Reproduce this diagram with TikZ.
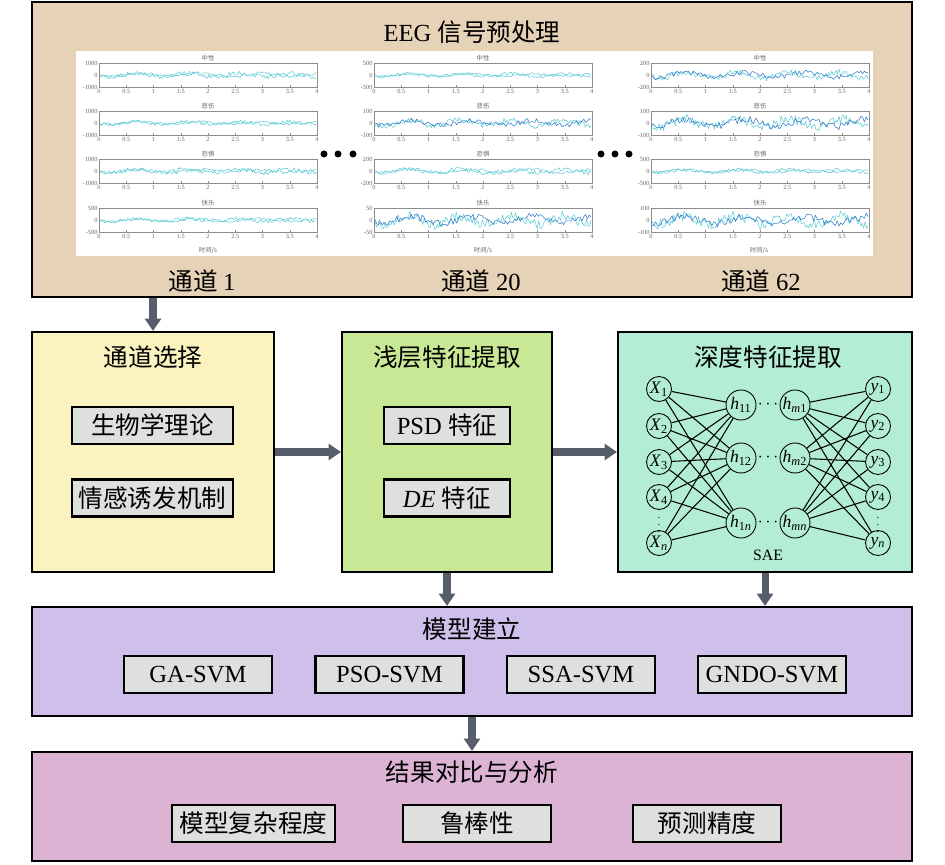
\documentclass[tikz,border=0pt]{standalone}
\usepackage{fontspec}
\setmainfont{Liberation Serif}
\newfontfamily\cjk{Noto Sans CJK SC}
\usepackage{xcolor}
\usetikzlibrary{arrows.meta, positioning}

\definecolor{tanbg}{HTML}{E6D2B6}
\definecolor{selbg}{HTML}{FBF3BF}
\definecolor{shalbg}{HTML}{C9E896}
\definecolor{deepbg}{HTML}{B3EDD6}
\definecolor{modbg}{HTML}{CEC0EA}
\definecolor{resbg}{HTML}{DDB3D4}
\definecolor{itembg}{HTML}{DEE0DE}
\definecolor{arrowgray}{HTML}{585D6C}
\definecolor{sigcyan}{HTML}{5CCBD4}
\definecolor{sigblue}{HTML}{2C7BCB}

% one small EEG trace with its frame and tick labels
\newcommand{\eegpanel}[7]{%
  \begin{scope}[shift={(#1,#2)}]
    \pgfmathsetseed{#5}
    \draw[sigline, sigcyan] plot[domain=1:217, samples=150, variable=\t]
      (\t, {12 + #6*(0.45*sin(\t*7+#5) + 0.55*rand)});
    \draw[sigline, #7] plot[domain=1:217, samples=120, variable=\t]
      (\t, {12 + 0.8*#6*(0.5*sin(\t*6+2*#5) + 0.5*rand)});
    \draw[axisframe] (0,0) rectangle (218,24);
    \node[plotlbl, anchor=south] at (109,0) {\cjk #3};
    \node[plotlbl, anchor=east] at (0,0) {#4};
    \node[plotlbl, anchor=east] at (0,12) {0};
    \node[plotlbl, anchor=east] at (0,24) {-#4};
    \foreach \k/\lab in {0/0,1/0.5,2/1,3/1.5,4/2,5/2.5,6/3,7/3.5,8/4} {
      \draw[axisframe] (\k*27.25,24) -- ++(0,-1.5);
      \node[plotlbl, anchor=north] at (\k*27.25,25) {\lab};
    }
  \end{scope}}

\begin{document}
\begin{tikzpicture}[
    x=0.02cm, y=-0.02cm,
    stage/.style={rectangle, draw, line width=1.2pt, inner sep=0pt},
    item/.style={rectangle, draw, line width=1.2pt, fill=itembg, inner sep=0pt,
      minimum height=0.74cm, font=\fontsize{14}{16}\selectfont},
    head/.style={font=\fontsize{14}{16}\selectfont\cjk, inner sep=1pt},
    fatarrow/.style={draw=arrowgray, line width=4pt, -{Triangle[length=7pt, width=9pt]}},
    sigline/.style={line width=0.3pt, line join=round},
    axisframe/.style={draw=black!45, line width=0.25pt},
    plotlbl/.style={font=\fontsize{3.6}{4}\selectfont, text=black!60, inner sep=0.7pt},
    unit/.style={circle, draw, line width=0.5pt, minimum size=0.5cm, inner sep=0pt,
      font=\fontsize{10}{11}\selectfont},
    hid/.style={circle, draw, line width=0.5pt, minimum size=0.6cm, inner sep=0pt,
      font=\fontsize{10}{11}\selectfont},
    vdot/.style={inner sep=0pt, font=\fontsize{6}{6}\selectfont},
    link/.style={draw, line width=0.6pt}
  ]
  \useasboundingbox (0,0) rectangle (945,864);

  % preprocessing
  \node[stage, fill=tanbg, minimum width=17.6cm, minimum height=5.9cm] (eeg) at (472,149.5) {};
  \node[head] (eegt) at (472,32) {\rmfamily EEG {\cjk 信号预处理}};
  \fill[white] (76,51) rectangle (873,256);

  \eegpanel{99}{63}{中性}{1000}{11}{4}{sigcyan}
  \eegpanel{99}{111}{悲伤}{1000}{12}{3}{sigcyan}
  \eegpanel{99}{159}{恐惧}{1000}{13}{4}{sigcyan}
  \eegpanel{99}{208}{快乐}{500}{14}{3}{sigcyan}
  \eegpanel{374}{63}{中性}{500}{21}{3}{sigcyan}
  \eegpanel{374}{111}{悲伤}{100}{22}{6}{sigblue}
  \eegpanel{374}{159}{恐惧}{200}{23}{4}{sigcyan}
  \eegpanel{374}{208}{快乐}{50}{24}{9}{sigblue}
  \eegpanel{651}{63}{中性}{200}{31}{6}{sigblue}
  \eegpanel{651}{111}{悲伤}{100}{32}{9}{sigblue}
  \eegpanel{651}{159}{恐惧}{500}{33}{3}{sigcyan}
  \eegpanel{651}{208}{快乐}{100}{34}{9}{sigblue}

  \foreach \gx in {208,483,759}
    \node[plotlbl] at (\gx,250) {\cjk 时间/s};
  \foreach \dx in {324,338,353,601,615,629}
    \fill (\dx,154) circle (3.5);

  \node[head] (ch1) at (202,281) {通道 {\rmfamily 1}};
  \node[head] (ch20) at (481,281) {通道 {\rmfamily 20}};
  \node[head] (ch62) at (761,281) {通道 {\rmfamily 62}};

  % second row
  \node[stage, fill=selbg, minimum width=4.84cm, minimum height=4.8cm] (sel) at (153,452) {};
  \node[stage, fill=shalbg, minimum width=4.2cm, minimum height=4.8cm] (shal) at (447,452) {};
  \node[stage, fill=deepbg, minimum width=5.88cm, minimum height=4.8cm] (deep) at (765,452) {};

  \node[head] (selt) at (153,357) {通道选择};
  \node[head] (shalt) at (447,357) {浅层特征提取};
  \node[head] (deept) at (768,357) {深度特征提取};

  \node[item, minimum width=3.22cm] (bio) at (152.5,425.5) {\cjk 生物学理论};
  \node[item, minimum width=3.22cm] (emo) at (152.5,498) {\cjk 情感诱发机制};
  \node[item, minimum width=2.52cm] (psd) at (447,425.5) {PSD {\cjk 特征}};
  \node[item, minimum width=2.52cm] (de) at (447,498) {\textit{DE} {\cjk 特征}};

  % SAE network
  \foreach \i/\y/\lab in {1/389/1, 2/426/2, 3/462/3, 4/497/4, 5/543/\textit{n}} {
    \node[unit] (x\i) at (659,\y) {\textit{X}\textsubscript{\lab}};
    \node[unit] (y\i) at (878,\y) {\textit{y}\textsubscript{\lab}};
  }
  \foreach \j/\y/\la/\lb in {1/405/11/\textit{m}1, 2/458/12/\textit{m}2, 3/523/1\textit{n}/\textit{mn}} {
    \node[hid] (a\j) at (741,\y) {\textit{h}\textsubscript{\la}};
    \node[hid] (b\j) at (795,\y) {\textit{h}\textsubscript{\lb}};
    \node (hd\j) at (768,\y) {$\cdots$};
  }
  \foreach \i in {1,...,5}
    \foreach \j in {1,2,3} {
      \draw[link] (x\i) -- (a\j);
      \draw[link] (b\j) -- (y\i);
    }
  \node[vdot] (xd) at (659,520) {$\vdots$};
  \node[vdot] (yd) at (878,520) {$\vdots$};
  \node[font=\fontsize{9}{10}\selectfont] (sae) at (768,555) {SAE};

  % model and results
  \node[stage, fill=modbg, minimum width=17.6cm, minimum height=2.18cm] (model) at (472,661.5) {};
  \node[head] (modelt) at (472,629) {模型建立};
  \node[item, minimum width=2.96cm] (ga) at (198,674.5) {GA-SVM};
  \node[item, minimum width=2.96cm] (pso) at (389.5,674.5) {PSO-SVM};
  \node[item, minimum width=2.96cm] (ssa) at (581,674.5) {SSA-SVM};
  \node[item, minimum width=2.96cm] (gndo) at (772,674.5) {GNDO-SVM};

  \node[stage, fill=resbg, minimum width=17.6cm, minimum height=2.18cm] (res) at (472,806.5) {};
  \node[head] (rest) at (472,772) {结果对比与分析};
  \node[item, minimum width=3.26cm] (cplx) at (253.5,823.5) {\cjk 模型复杂程度};
  \node[item, minimum width=2.96cm] (rob) at (477,823.5) {\cjk 鲁棒性};
  \node[item, minimum width=2.96cm] (acc) at (707,823.5) {\cjk 预测精度};

  % arrows
  \draw[fatarrow] (eeg.south -| sel.north) -- (sel.north);
  \draw[fatarrow] (sel.east) -- (shal.west);
  \draw[fatarrow] (shal.east) -- (deep.west);
  \draw[fatarrow] (shal.south) -- (shal.south |- model.north);
  \draw[fatarrow] (deep.south) -- (deep.south |- model.north);
  \draw[fatarrow] (model.south) -- (res.north);

\end{tikzpicture}
\end{document}
